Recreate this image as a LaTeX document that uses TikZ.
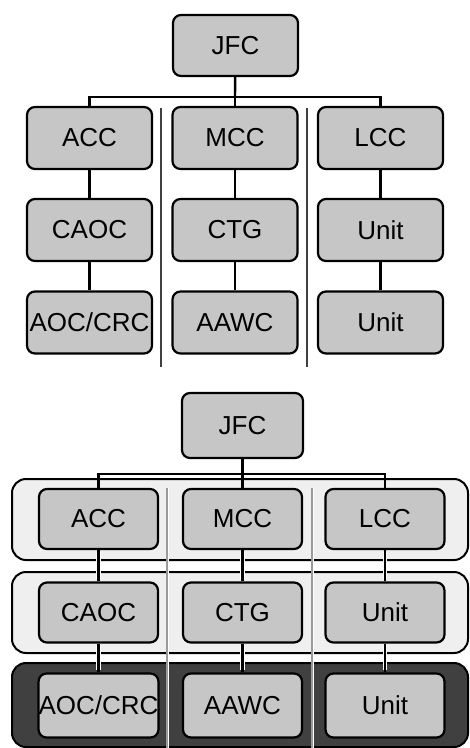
\documentclass[tikz,border=0pt]{standalone}
\usepackage{fontspec}
\setmainfont{Liberation Sans}
\usetikzlibrary{positioning, backgrounds}
\definecolor{cmdbox}{HTML}{C6C6C6}
\definecolor{cmdband}{HTML}{EFEFEF}
\definecolor{cmddark}{HTML}{404040}
\definecolor{cmdsep}{HTML}{9A9A9A}

\begin{document}
\begin{tikzpicture}[
  x=1pt, y=-1pt,
  every node/.style={font=\fontsize{26}{30}\selectfont},
  cmdnode/.style={rectangle, rounded corners=8pt, draw=black, line width=2.2pt, fill=cmdbox, minimum width=125pt, minimum height=62pt, inner sep=0pt},
  cmdsmall/.style={cmdnode, minimum width=119pt, minimum height=60pt},
  band/.style={rectangle, rounded corners=14pt, draw=black, line width=2pt, minimum width=456pt, minimum height=81pt},
  link/.style={draw=black, line width=2.4pt},
  halolink/.style={link, preaction={draw=white, line width=4.4pt, shorten <=2pt, shorten >=2pt}},
  divider/.style={draw=cmddark, line width=1.8pt},
]
\useasboundingbox (0,0) rectangle (470,748);

% upper chart
\node[cmdnode, minimum height=61pt] (jfc) at (235.5,45.5) {JFC};
\node[cmdnode] (acc)   at (89.5,138)  {ACC};
\node[cmdnode] (mcc)   at (235,138)   {MCC};
\node[cmdnode] (lcc)   at (380.5,138) {LCC};
\node[cmdnode] (caoc)  at (89.5,230)  {CAOC};
\node[cmdnode] (ctg)   at (235,230)   {CTG};
\node[cmdnode] (unitl) at (380.5,230) {Unit};
\node[cmdnode] (aoc)   at (89.5,322.5)  {AOC/CRC};
\node[cmdnode] (aawc)  at (235,322.5)   {AAWC};
\node[cmdnode] (unitm) at (380.5,322.5) {Unit};

\coordinate (bus) at (235,97);
\draw[link] (jfc) -- (bus);
\draw[link] (bus) -| (acc);
\draw[link] (bus) -- (mcc);
\draw[link] (bus) -| (lcc);
\draw[link] (acc) -- (caoc);
\draw[link] (caoc) -- (aoc);
\draw[link] (mcc) -- (ctg);
\draw[link] (ctg) -- (aawc);
\draw[link] (lcc) -- (unitl);
\draw[link] (unitl) -- (unitm);

\coordinate (sepa) at (161,108);
\coordinate (sepb) at (161,367);
\coordinate (sepc) at (307,108);
\coordinate (sepd) at (307,367);
\draw[divider] (sepa) -- (sepb);
\draw[divider] (sepc) -- (sepd);

% lower chart, grouped by level
\node[cmdnode, minimum width=121pt, minimum height=65pt] (jfcB) at (242.5,425.5) {JFC};
\node[cmdsmall] (accB)   at (98.5,519)  {ACC};
\node[cmdsmall] (mccB)   at (242.5,519) {MCC};
\node[cmdsmall] (lccB)   at (385,519)   {LCC};
\node[cmdsmall] (caocB)  at (98.5,612.5)  {CAOC};
\node[cmdsmall] (ctgB)   at (242.5,612.5) {CTG};
\node[cmdsmall] (unitlB) at (385,612.5)   {Unit};
\node[cmdsmall, minimum height=64pt] (aocB)   at (98.5,705.5)  {AOC/CRC};
\node[cmdsmall, minimum height=64pt] (aawcB)  at (242.5,705.5) {AAWC};
\node[cmdsmall, minimum height=64pt] (unitmB) at (385,705.5)   {Unit};

\begin{scope}[on background layer]
  \node[band, fill=cmdband] (bandA) at (240,519.5) {};
  \node[band, fill=cmdband] (bandB) at (240,612.5) {};
  \node[band, fill=cmddark, minimum height=84pt] (bandC) at (240,705) {};
  \coordinate (sepe) at (167,488);
  \coordinate (sepf) at (167,748);
  \coordinate (sepg) at (312,488);
  \coordinate (seph) at (312,748);
  \draw[draw=cmdsep, line width=1.6pt, preaction={draw=white, line width=3pt}] (sepe) -- (sepf);
  \draw[draw=cmdsep, line width=1.6pt, preaction={draw=white, line width=3pt}] (sepg) -- (seph);
\end{scope}

\coordinate (busB) at (242.5,474);
\draw[link] (jfcB) -- (busB);
\draw[link] (busB) -| (accB);
\draw[link] (busB) -- (mccB);
\draw[link] (busB) -| (lccB);
\draw[halolink] (accB) -- (caocB);
\draw[halolink] (caocB) -- (aocB);
\draw[halolink] (mccB) -- (ctgB);
\draw[halolink] (ctgB) -- (aawcB);
\draw[halolink] (lccB) -- (unitlB);
\draw[halolink] (unitlB) -- (unitmB);

\end{tikzpicture}
\end{document}
